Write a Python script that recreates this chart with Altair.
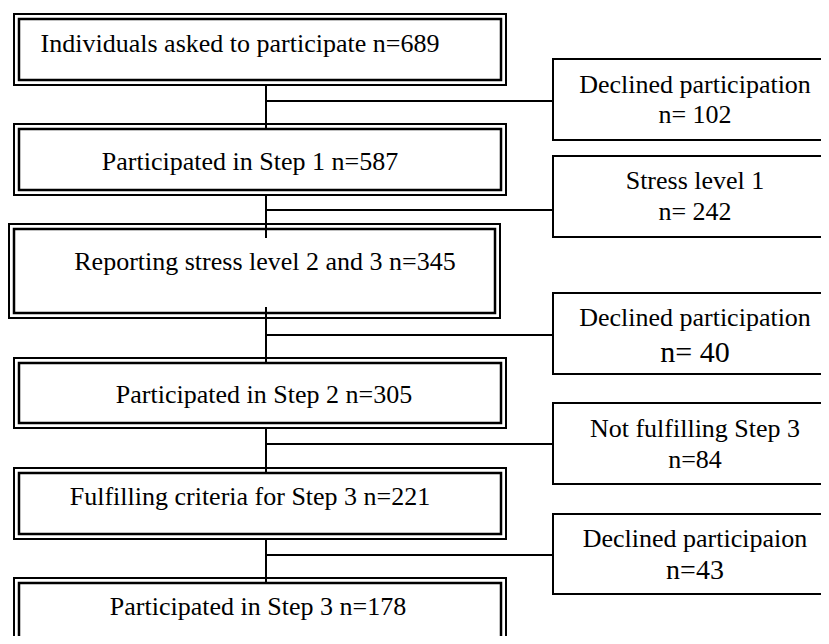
import altair as alt
import pandas as pd

# ---- content ----
main_text = [
    "Individuals asked to participate",
    "Participated in Step 1",
    "Reporting stress level 2 and 3",
    "Participated in Step 2",
    "Fulfilling criteria for Step 3",
    "Participated in Step 3",
]
main_n = [689, 587, 345, 305, 221, 178]

side_text = [
    "Declined participation",
    "Stress level 1",
    "Declined participation",
    "Not fulfilling Step 3",
    "Declined participaion",
]
side_n = ["n= 102", "n= 242", "n= 40", "n=84", "n=43"]

# ---- layout (pixel positions of the flowchart) ----
main_top = [14, 124, 224, 358, 468, 578]
main_bottom = [85, 195, 318, 428, 539, 680]
main_left = [14, 14, 9, 14, 14, 14]
main_right = [506, 506, 500, 506, 506, 506]
main_tx = [240, 250, 265, 264, 250, 258]
main_ty = [52, 170, 270, 403, 505, 615]

side_top = [59, 156, 293, 403, 514]
side_bottom = [140, 237, 374, 484, 594]
side_l1 = [93, 189, 326, 437, 547]
side_l2 = [123, 220, 362, 468, 579]
side_fs = [26, 26, 30, 26, 28]
side_left, side_right, side_tx = 553, 850, 695

trunk_x = 266
trunk_seg = [(85, 128), (195, 238), (307, 362), (428, 472), (540, 583)]
branch_y = [101, 210, 335, 444, 555]

FONT = "'Liberation Serif', 'Times New Roman', Times, 'DejaVu Serif', serif"
X = alt.Scale(domain=[8, 821], nice=False, zero=False)
Y = alt.Scale(domain=[8, 636], nice=False, zero=False, reverse=True)

outer = pd.DataFrame({"x": main_left, "x2": main_right, "y": main_top, "y2": main_bottom})
inner = pd.DataFrame({
    "x": [v + 5 for v in main_left], "x2": [v - 5 for v in main_right],
    "y": [v + 5 for v in main_top], "y2": [v - 5 for v in main_bottom],
})
side = pd.DataFrame({"x": [side_left] * 5, "x2": [side_right] * 5,
                     "y": side_top, "y2": side_bottom})

conn_rows = []
for a, b in trunk_seg:
    conn_rows.append({"x": trunk_x, "x2": trunk_x, "y": a, "y2": b})
for yy in branch_y:
    conn_rows.append({"x": trunk_x, "x2": side_left, "y": yy, "y2": yy})
conn = pd.DataFrame(conn_rows)

main_lab = pd.DataFrame({
    "x": main_tx, "y": main_ty,
    "t": [f"{t} n={n}" for t, n in zip(main_text, main_n)],
})
side_lab1 = pd.DataFrame({"x": [side_tx] * 5, "y": side_l1, "t": side_text})
side_lab2 = pd.DataFrame({"x": [side_tx] * 5, "y": side_l2, "t": side_n, "fs": side_fs})


def rects(df, sw):
    return alt.Chart(df).mark_rect(
        fillOpacity=0, stroke="black", strokeWidth=sw, strokeJoin="miter", clip=True
    ).encode(
        x=alt.X("x:Q", scale=X, axis=None), x2="x2:Q",
        y=alt.Y("y:Q", scale=Y, axis=None), y2="y2:Q",
    )


lines = alt.Chart(conn).mark_rule(color="black", strokeWidth=2, clip=True).encode(
    x=alt.X("x:Q", scale=X, axis=None), x2="x2:Q",
    y=alt.Y("y:Q", scale=Y, axis=None), y2="y2:Q",
)


def texts(df, size=None):
    base = alt.Chart(df).mark_text(
        font=FONT, fontSize=26, align="center", baseline="alphabetic", color="black"
    )
    enc = dict(
        x=alt.X("x:Q", scale=X, axis=None),
        y=alt.Y("y:Q", scale=Y, axis=None),
        text="t:N",
    )
    if size:
        enc["size"] = alt.Size("fs:Q", scale=None, legend=None)
    return base.encode(**enc)


chart = alt.layer(
    rects(outer, 2),
    rects(inner, 2.5),
    rects(side, 2),
    lines,
    texts(main_lab),
    texts(side_lab1),
    texts(side_lab2, size=True),
).properties(
    width=813, height=628, padding=0,
    autosize=alt.AutoSizeParams(type="none"),
    background="white",
).configure_view(strokeWidth=0)

chart.save("out.html", embed_options={"renderer": "svg", "actions": False})
